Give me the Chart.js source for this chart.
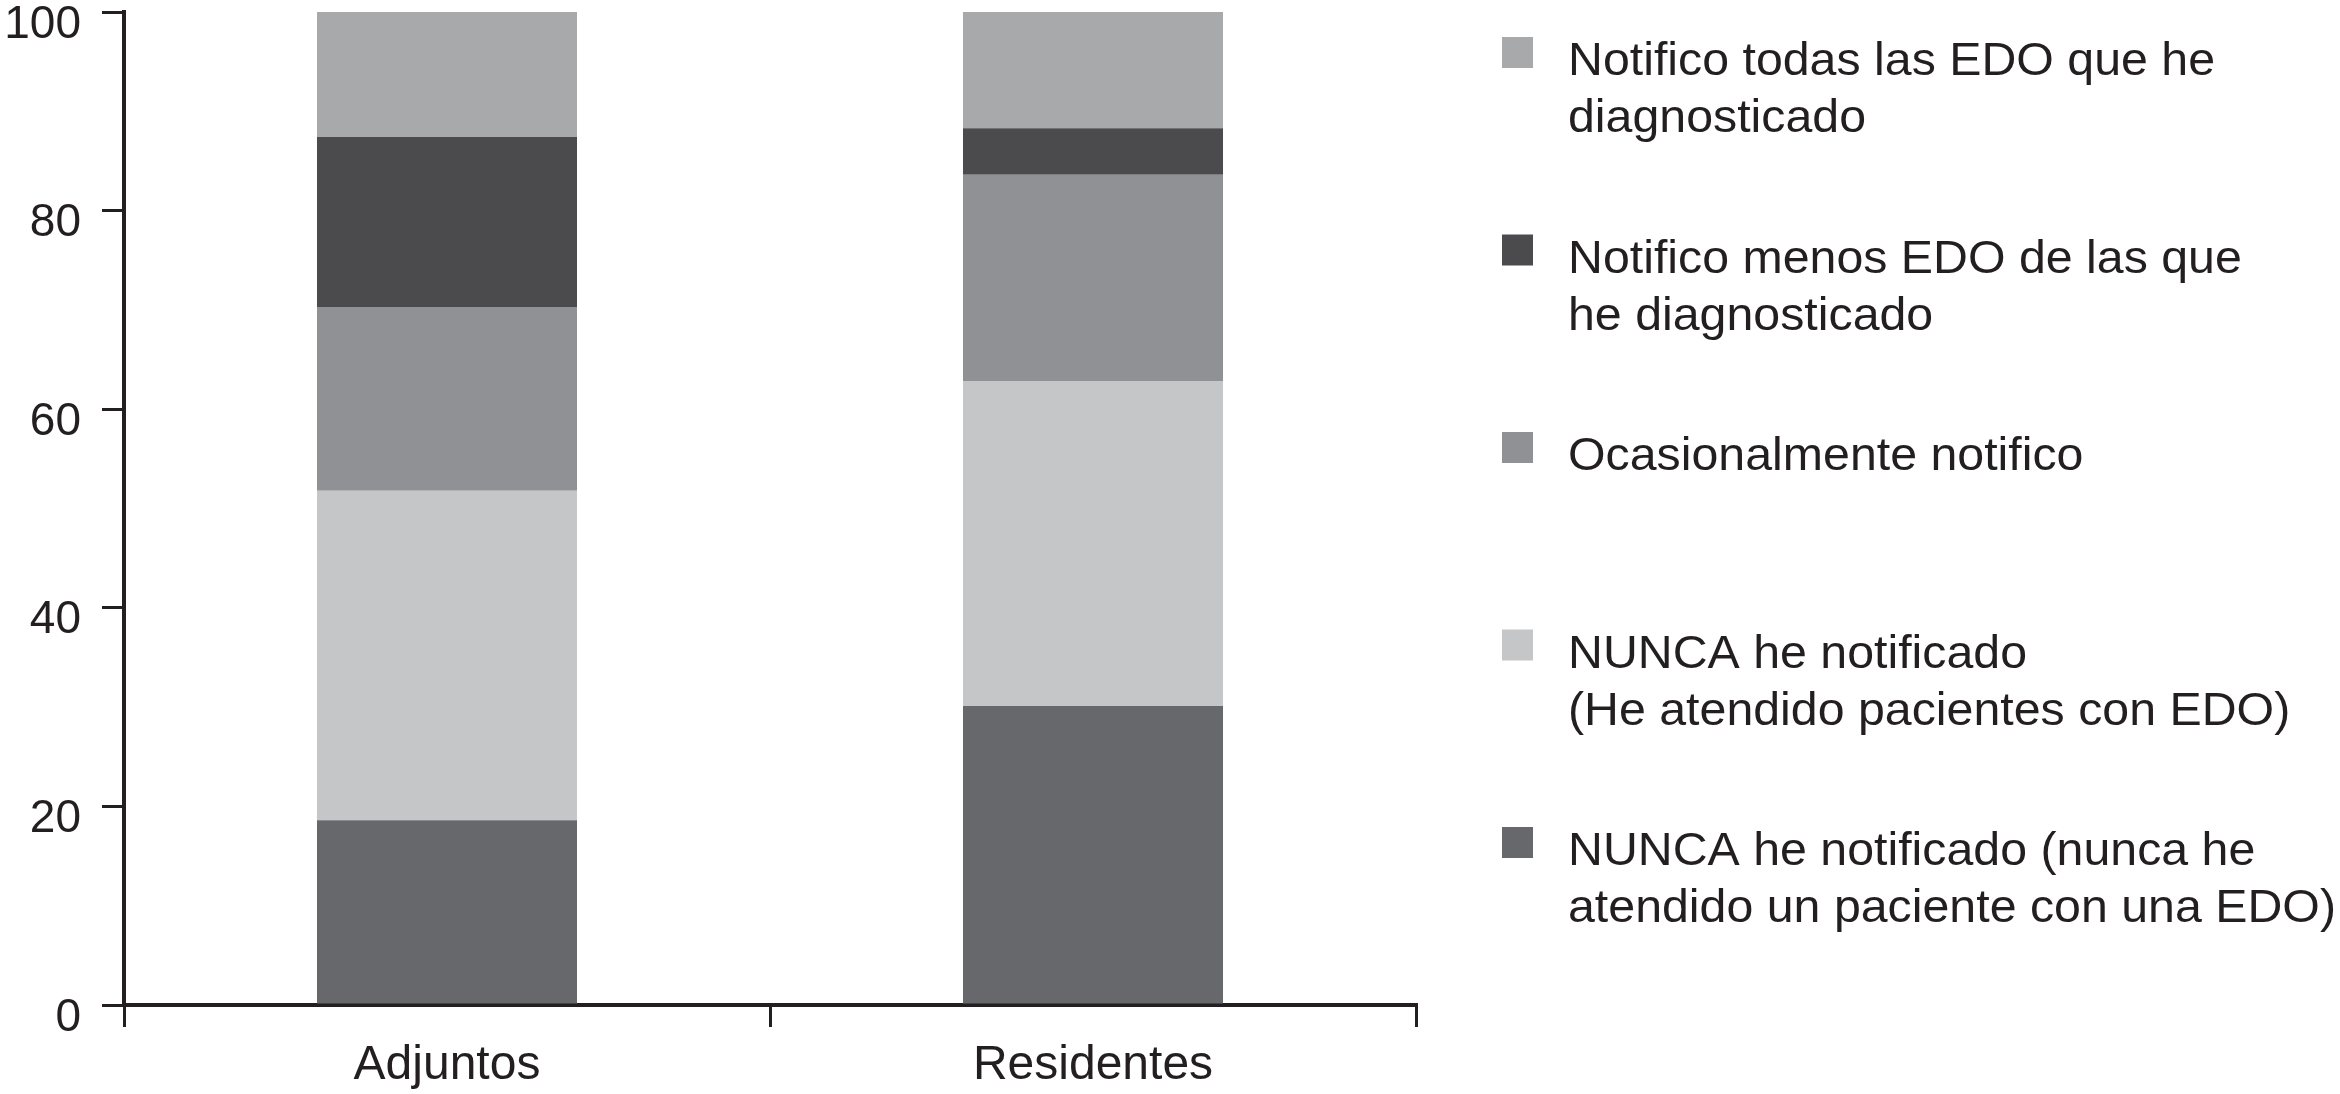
<!DOCTYPE html>
<html>
<head>
<meta charset="utf-8">
<title>Notificación de EDO</title>
<script src="https://cdn.jsdelivr.net/npm/chart.js@4.4.1/dist/chart.umd.min.js"></script>
<style>
    html, body { margin: 0; padding: 0; background: #fff; }
    canvas { display: block; }
</style>
</head>
<body>
<canvas id="chart1" width="2340" height="1094"></canvas>
<script>
const categories = ["Adjuntos", "Residentes"]

// bottom to top of each bar
const seriesNames = [
    "NUNCA he notificado (nunca he atendido un paciente con una EDO)",
    "NUNCA he notificado (He atendido pacientes con EDO)",
    "Ocasionalmente notifico",
    "Notifico menos EDO de las que he diagnosticado",
    "Notifico todas las EDO que he diagnosticado",
]
const legendLines = [
    ["NUNCA he notificado (nunca he", "atendido un paciente con una EDO)"],
    ["NUNCA he notificado", "(He atendido pacientes con EDO)"],
    ["Ocasionalmente notifico"],
    ["Notifico menos EDO de las que", "he diagnosticado"],
    ["Notifico todas las EDO que he", "diagnosticado"],
]

const nuncaAtendido = [18.6, 30.1]
const nuncaNotificado = [33.2, 32.7]
const ocasionalmente = [18.5, 20.8]
const menosEdo = [17.1, 4.7]
const todasEdo = [12.6, 11.7]

const yTicks = [0, 20, 40, 60, 80, 100]

const seriesValues = [nuncaAtendido, nuncaNotificado, ocasionalmente, menosEdo, todasEdo]
const seriesColors = ["#67686c", "#c5c6c8", "#909195", "#4b4b4e", "#a8a9ab"]

;(function() {
    const ink = "#231f20"
    const family = "'Liberation Sans', Arial, Helvetica, sans-serif"

    // legend on the right, top series first, labels can span two lines
    const sideLegend = {
        id: "sideLegend",
        afterDraw(chart, args, opts) {
            const ctx = chart.ctx
            const n = chart.data.datasets.length
            ctx.save()
            ctx.font = opts.fontSize + "px " + family
            ctx.textBaseline = "alphabetic"
            ctx.textAlign = "left"
            for (let i = 0; i < n; i++) {
                const k = n - 1 - i
                const ds = chart.data.datasets[k]
                const top = opts.top + i * opts.spacing
                ctx.fillStyle = ds.backgroundColor
                ctx.fillRect(opts.left, top, opts.box, opts.box)
                ctx.fillStyle = ink
                legendLines[k].forEach((line, j) => {
                    const y = top + opts.box + opts.baselineShift + j * opts.lineHeight
                    ctx.save()
                    ctx.translate(opts.left + opts.textGap, y)
                    ctx.scale(opts.stretch, 1)
                    ctx.fillText(line, 0, 0)
                    ctx.restore()
                })
            }
            ctx.restore()
        }
    }

    let datasets = seriesNames.map((name, i) => ({
        "label": name,
        "data": seriesValues[i],
        "backgroundColor": seriesColors[i],
        "borderWidth": 0,
        "categoryPercentage": 1.0,
        "barPercentage": 0.4025
    }))

    let chartData = {
        "type": "bar",
        "data": {
            "labels": categories,
            "datasets": datasets
        },
        "options": {
            "responsive": false,
            "animation": false,
            "layout": {
                "padding": { "left": 4, "top": 12, "right": 924, "bottom": 1 }
            },
            "scales": {
                "x": {
                    "stacked": true,
                    // fixed axis band so the baseline lands where the original has it
                    "afterFit": (scale) => {
                        scale.height = 88
                    },
                    "grid": {
                        "display": true,
                        "offset": true,
                        "drawOnChartArea": false,
                        "drawTicks": true,
                        "tickLength": 22,
                        "color": ink,
                        "lineWidth": 3
                    },
                    "border": { "display": true, "color": ink, "width": 4 },
                    "ticks": {
                        "color": ink,
                        "padding": 10,
                        "font": { "family": family, "size": 48, "lineHeight": 1.2 }
                    }
                },
                "y": {
                    "stacked": true,
                    "min": 0,
                    "max": 100,
                    "afterBuildTicks": (scale) => {
                        scale.ticks = yTicks.map(v => ({ "value": v }))
                    },
                    // let the 100 tick sit right at the top edge
                    "afterFit": (scale) => {
                        scale.paddingTop = 0
                        scale.width = 120
                    },
                    "grid": {
                        "display": true,
                        "drawOnChartArea": false,
                        "drawTicks": true,
                        "tickLength": 22,
                        "color": ink,
                        "lineWidth": 3
                    },
                    "border": { "display": true, "color": ink, "width": 4 },
                    "ticks": {
                        "color": ink,
                        "padding": 21,
                        "labelOffset": 13,
                        "font": { "family": family, "size": 46, "lineHeight": 1.2 }
                    }
                }
            },
            "plugins": {
                "legend": { "display": false },
                "tooltip": { "enabled": false },
                "sideLegend": {
                    "left": 1502,
                    "top": 37,
                    "spacing": 197.5,
                    "box": 31,
                    "textGap": 66,
                    "fontSize": 46,
                    "stretch": 1.05,
                    "lineHeight": 57,
                    "baselineShift": 7
                }
            }
        },
        "plugins": [sideLegend]
    }

    const ctx = document.getElementById("chart1").getContext("2d")
    new Chart(ctx, chartData)
})()
</script>
</body>
</html>
